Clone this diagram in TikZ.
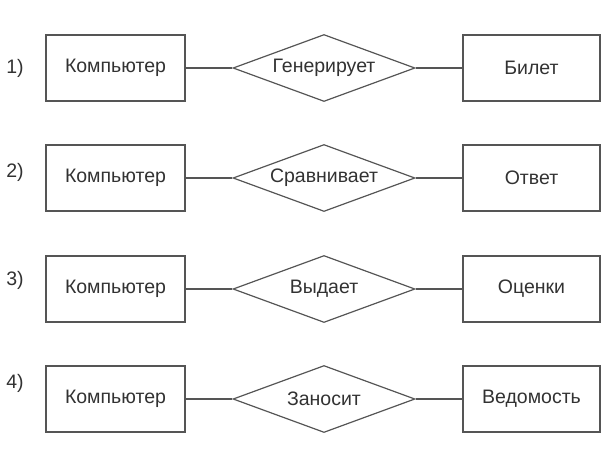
\documentclass[tikz,border=0pt]{standalone}
\usepackage{fontspec}
\setmainfont{Liberation Sans}
\usetikzlibrary{shapes.geometric}
\definecolor{linegray}{RGB}{85,85,85}
\definecolor{textgray}{RGB}{50,50,50}
\tikzset{
  entity/.style={draw=linegray, line width=1.4pt, rectangle, minimum width=139pt, minimum height=66pt, inner sep=0pt, text=textgray},
  relation/.style={draw=linegray, line width=1.2pt, diamond, minimum width=182pt, minimum height=67pt, inner sep=0pt},
  link/.style={draw=linegray, line width=1.4pt},
  rownum/.style={text=textgray}
}
\begin{document}
\begin{tikzpicture}[x=1pt, y=-1pt, font=\fontsize{19.5}{22}\selectfont]
        \useasboundingbox (0,0) rectangle (601,448);
        
        % Ряды: номер / центр / метка / связь / объект
        \foreach \i/\yy/\ly/\rel/\obj in {1/68/68/Генерирует/Билет, 2/178/172/Сравнивает/Ответ, 3/289/280/Выдает/Оценки, 4/399/383/Заносит/Ведомость}{
          \node[rownum] (num\i) at (15,\ly) {\i)};
          \node[entity] (comp\i) at (115.5,\yy) {Компьютер};
          \node[relation, label={[text=textgray]center:\rel}] (rel\i) at (324,\yy) {};
          \node[entity, minimum width=137pt] (obj\i) at (531.5,\yy) {\obj};
          
          % Линии
          \draw[link] (comp\i) -- (rel\i);
          \draw[link] (rel\i) -- (obj\i);
        }
        
    \end{tikzpicture}
\end{document}
